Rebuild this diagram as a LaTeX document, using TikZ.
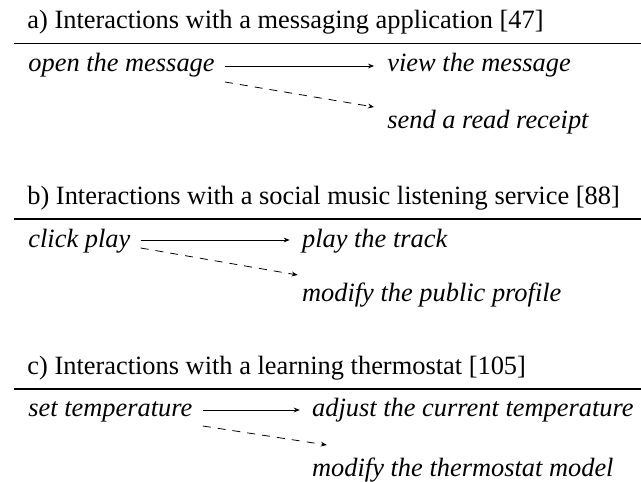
\documentclass[tikz,border=0pt]{standalone}
\usepackage{fontspec}
\setmainfont{Liberation Serif}
\usetikzlibrary{arrows.meta, positioning}

\begin{document}
\begin{tikzpicture}[
  x=0.5pt, y=-0.5pt,
  font=\fontsize{13.2}{15}\selectfont,
  >={Stealth[length=3pt, width=2.4pt]},
  heading/.style={anchor=base west, inner sep=0pt},
  event/.style={anchor=base west, inner sep=0pt, font=\fontsize{13.2}{15}\selectfont\itshape},
  separator/.style={line width=0.6pt},
  flow/.style={->, line width=0.4pt},
  sidefx/.style={->, line width=0.4pt, dash pattern=on 4pt off 3.5pt},
]
\useasboundingbox (0,0) rectangle (641,481);

% --- a) mensajeria ---
\node[heading] (capa) at (27,29) {a) Interactions with a messaging application [47]};
\draw[separator] (13.5,43.5) -- (641,43.5);
\node[event] (open) at (28,72) {open the message};
\node[event, right=86pt of open.base east, anchor=base west] (view) {view the message};
\node[event, below=28pt of view.base west, anchor=base west] (receipt) {send a read receipt};

\draw[flow] ([shift={(10,-6)}]open.base east) -- ([shift={(-13,-6)}]view.base west);
\draw[sidefx] ([shift={(10,10)}]open.base east) -- ([shift={(-13,-21)}]receipt.base west);

% --- b) musica ---
\node[heading] (capb) at (27,204.5) {b) Interactions with a social music listening service [88]};
\draw[separator] (13.5,219) -- (641,219);
\node[event] (click) at (28,247) {click play};
\node[event, right=85.5pt of click.base east, anchor=base west] (track) {play the track};
\node[event, below=27pt of track.base west, anchor=base west] (profile) {modify the public profile};

\draw[flow] ([shift={(10,-7)}]click.base east) -- ([shift={(-12,-7)}]track.base west);
\draw[sidefx] ([shift={(10,1)}]click.base east) -- ([shift={(-4,-26)}]profile.base west);

% --- c) termostato ---
\node[heading] (capc) at (27,374.5) {c) Interactions with a learning thermostat [105]};
\draw[separator] (13.5,389) -- (641,389);
\node[event] (settemp) at (28,416) {set temperature};
\node[event, right=59.5pt of settemp.base east, anchor=base west] (adjust) {adjust the current temperature};
\node[event, below=30pt of adjust.base west, anchor=base west] (model) {modify the thermostat model};

\draw[flow] ([shift={(10,-6)}]settemp.base east) -- ([shift={(-12,-6)}]adjust.base west);
\draw[sidefx] ([shift={(10,10)}]settemp.base east) -- ([shift={(15,-31)}]model.base west);

\end{tikzpicture}
\end{document}
